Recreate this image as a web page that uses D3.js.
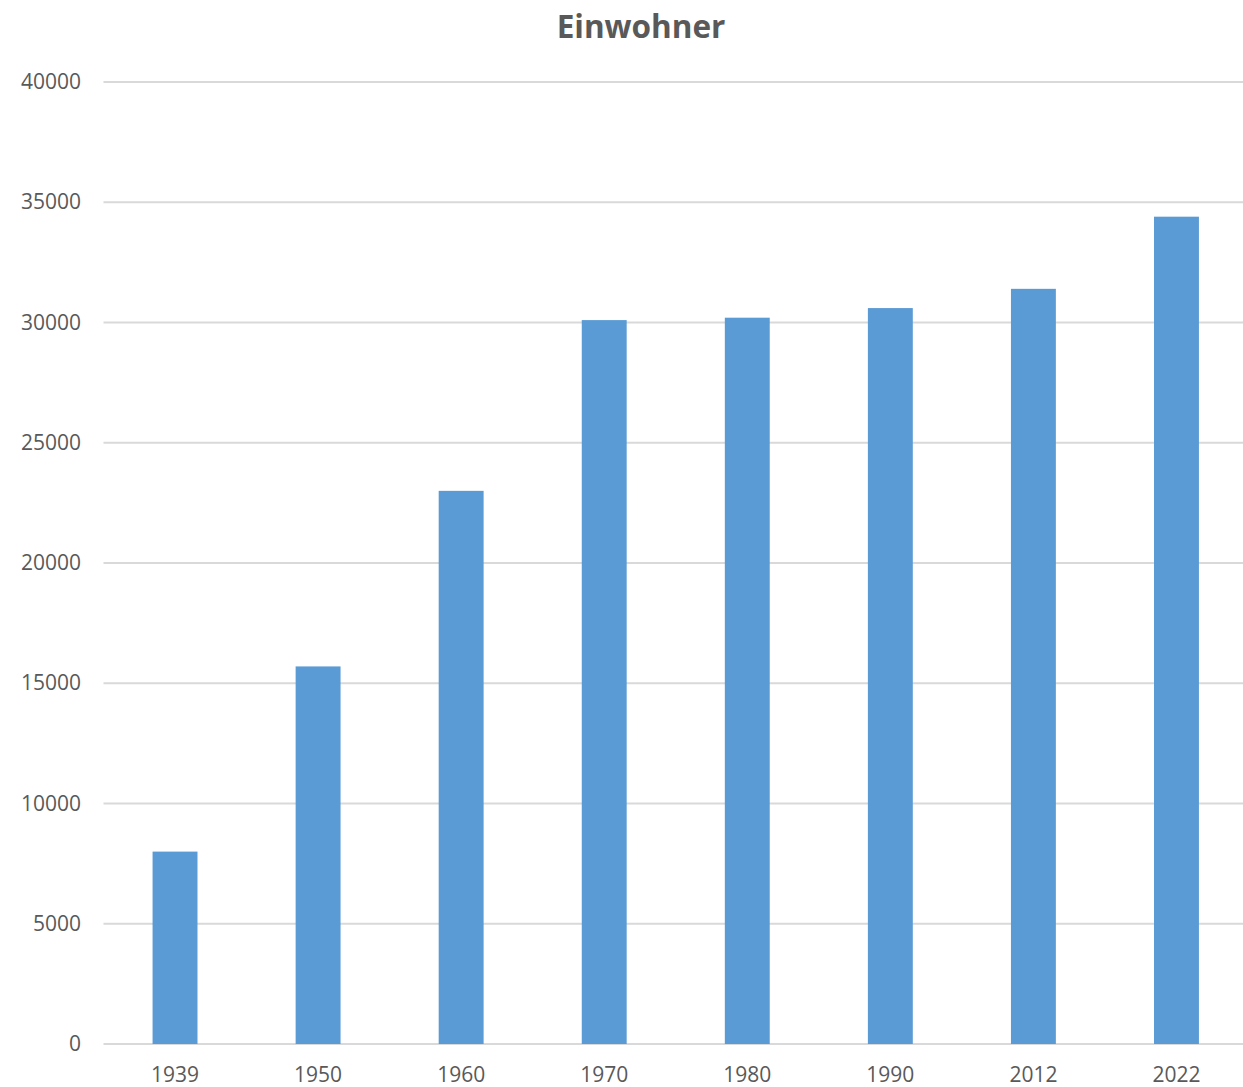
<!doctype html>
<html lang="de">
  <head>
    <meta charset="utf-8">
    <title>Einwohner</title>
    <style>
    body { margin: 0; background: #fff; }
    .grid line { stroke: #d9d9d9; stroke-width: 2px; }
    .axis text { font-family: "Open Sans", sans-serif; font-size: 21px; fill: #595959; }
    .title { font-family: "Open Sans", sans-serif; font-size: 31.5px; font-weight: bold; fill: #595959; }
    </style>
    <script src="https://d3js.org/d3.v7.min.js"></script>
  </head>
  <body>
    <svg width="1243" height="1087"></svg>
    <script>
    // Einwohner je Jahr
    var years = ["1939", "1950", "1960", "1970", "1980", "1990", "2012", "2022"];
    var population = [8000, 15700, 23000, 30100, 30200, 30600, 31400, 34400];
    var yTicks = [0, 5000, 10000, 15000, 20000, 25000, 30000, 35000, 40000];

    var svg = d3.select("svg");
    // note: "top" clashes with window.top, so use plot* names
    var plotLeft = 103.5, plotRight = 1248, plotTop = 82, plotBottom = 1044;

    var x = d3.scaleBand()
        .domain(years)
        .range([plotLeft, plotRight])
        .paddingInner(0.686)
        .paddingOuter(0.343);

    var y = d3.scaleLinear()
        .domain([0, 40000])
        .range([plotBottom, plotTop]);

    // gridlines
    svg.append("g")
        .attr("class", "grid")
        .selectAll("line")
        .data(yTicks)
      .enter().append("line")
        .attr("x1", plotLeft)
        .attr("x2", plotRight)
        .attr("y1", function(d) { return y(d); })
        .attr("y2", function(d) { return y(d); });

    // bars
    svg.append("g")
        .selectAll("rect")
        .data(years)
      .enter().append("rect")
        .attr("x", function(d) { return x(d); })
        .attr("width", x.bandwidth())
        .attr("y", function(d, i) { return y(population[i]); })
        .attr("height", function(d, i) { return plotBottom - y(population[i]); })
        .attr("fill", "#5b9bd5");

    // y axis labels
    var yAxis = svg.append("g")
        .attr("class", "axis")
        .attr("transform", "translate(81,0)")
        .call(d3.axisLeft(y).tickValues(yTicks).tickFormat(d3.format("d")).tickSize(0).tickPadding(0));
    yAxis.select(".domain").remove();

    // x axis labels
    var xAxis = svg.append("g")
        .attr("class", "axis")
        .attr("transform", "translate(0," + plotBottom + ")")
        .call(d3.axisBottom(x).tickSize(0).tickPadding(23));
    xAxis.select(".domain").remove();

    svg.append("text")
        .attr("class", "title")
        .attr("x", 641)
        .attr("y", 38)
        .attr("text-anchor", "middle")
        .text("Einwohner");
    </script>
  </body>
</html>
